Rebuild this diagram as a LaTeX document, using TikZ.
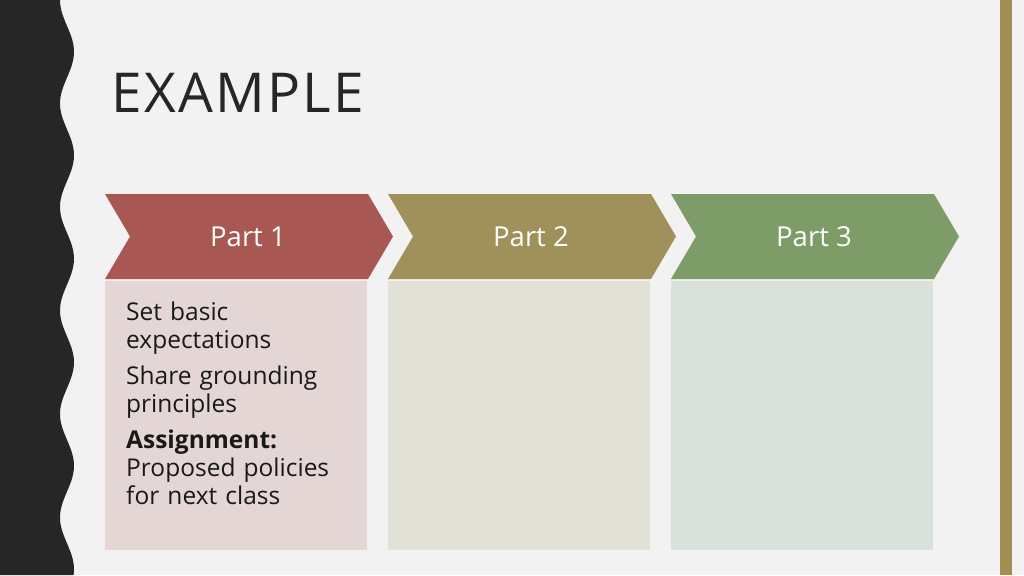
\documentclass[tikz,border=0pt]{standalone}
\usepackage{fontspec}
\setmainfont{Open Sans}
\usepackage{tikz}
\definecolor{slide}{HTML}{F2F2F2}
\definecolor{band}{HTML}{262626}
\definecolor{gold}{HTML}{A38D52}
\definecolor{redA}{HTML}{A85752}
\definecolor{oliveA}{HTML}{A0915A}
\definecolor{greenA}{HTML}{7E9C68}
\definecolor{redB}{HTML}{E4D6D5}
\definecolor{oliveB}{HTML}{E1E1D6}
\definecolor{greenB}{HTML}{DAE0DA}
\tikzset{
  chev/.style={text=white,font=\fontsize{27.5}{30}\selectfont},
  body/.style={anchor=north west,text width=240pt,align=left,text=black!90,
    font=\fontsize{24.5}{28}\selectfont,inner sep=0pt}
}
\begin{document}
\begin{tikzpicture}[x=1pt,y=-1pt]
\useasboundingbox (0,0) rectangle (1024,575);
\fill[slide] (0,0) rectangle (1024,575);
% wavy band
\fill[band] (0,0) -- plot[domain=0:575,samples=120,smooth,variable=\t] ({67-7*cos(\t/103.5*360)},\t) -- (0,575) -- cycle;
\fill[gold] (1000,0) rectangle (1012,575);
\node[anchor=west,text=black!85,font=\fontsize{55}{60}\selectfont\addfontfeature{LetterSpace=4}] (title) at (108,93) {EXAMPLE};
% chevrons and boxes
\foreach \i/\ca/\cb/\lab in {0/redA/redB/Part 1,1/oliveA/oliveB/Part 2,2/greenA/greenB/Part 3}{
  \begin{scope}[xshift=\i*283]
    \fill[\ca] (105,194) -- (368,194) -- (393,236.5) -- (368,279) -- (105,279) -- (130,236.5) -- cycle;
    \node[chev] (p\i) at (248,236.5) {\lab};
    \fill[\cb] (105,281) rectangle (367,550);
  \end{scope}
}
\node[body] (txt) at (126,302) {Set basic\\expectations\\[8pt]Share grounding\\principles\\[8pt]\textbf{Assignment:}\\Proposed policies\\for next class};
\end{tikzpicture}
\end{document}
